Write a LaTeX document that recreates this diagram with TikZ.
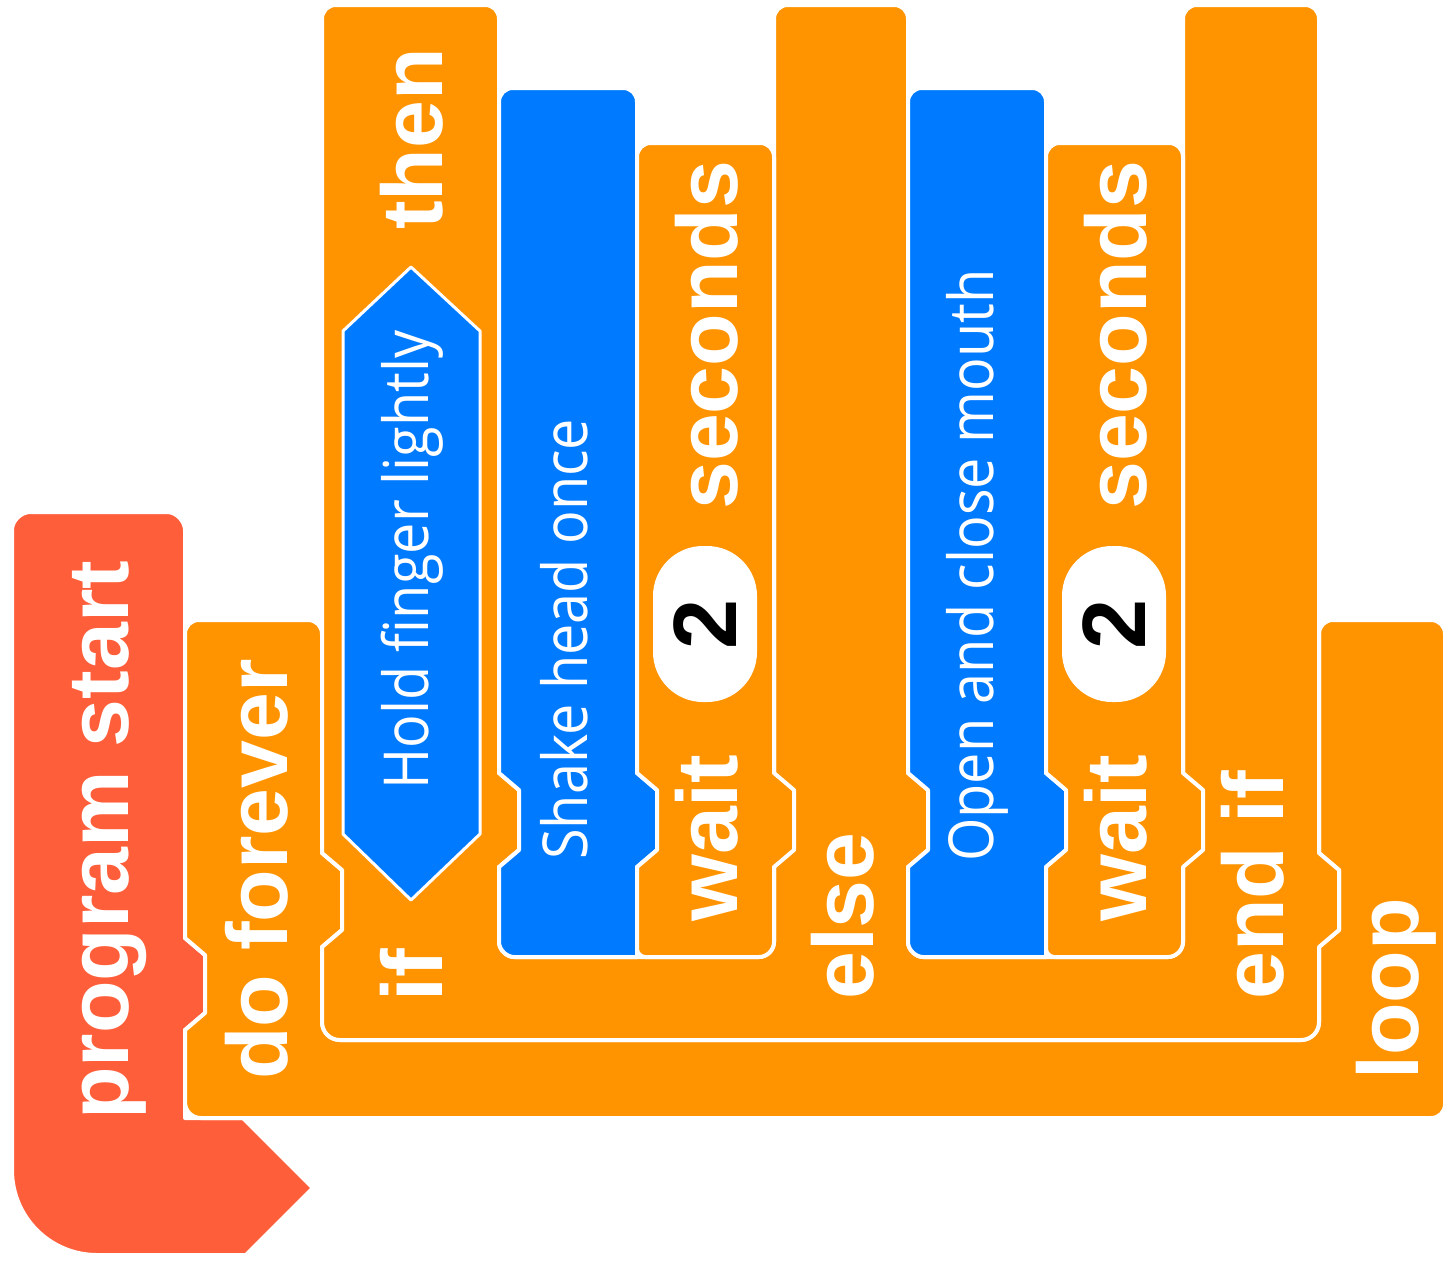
\documentclass[tikz,border=0pt]{standalone}
\usepackage{fontspec}
\newfontfamily\blockfont{Liberation Sans}
\newfontfamily\looksfont[FakeStretch=0.9]{Open Sans}
\definecolor{hatred}{RGB}{255,94,58}
\definecolor{ctrlorange}{RGB}{255,148,0}
\definecolor{looksblue}{RGB}{0,122,255}
\tikzset{
  blk/.style={draw=white, line width=4pt, line join=round},
  lbl/.style={text=white, font=\blockfont\bfseries\fontsize{86}{86}\selectfont,
    rotate=90, anchor=base west, inner sep=0pt},
  act/.style={text=white, font=\looksfont\fontsize{62}{62}\selectfont,
    rotate=90, anchor=base west, inner sep=0pt},
  numslot/.style={fill=white, rounded corners=50pt, minimum width=104pt,
    minimum height=156pt, inner sep=0pt},
  numtext/.style={text=black, font=\blockfont\bfseries\fontsize{90}{90}\selectfont,
    rotate=90, inner sep=0pt},
  % a blue action block followed by a "wait 2 seconds" block
  pics/actionwait/.style={code={
    \fill[looksblue, blk] (499,102) .. controls (499,94) and (505,88) .. (513,88)
      -- (623,88) .. controls (631,88) and (637,94) .. (637,102)
      -- (637,773) -- (657,790) -- (657,850) -- (637,867) -- (637,957)
      -- (514,957) .. controls (507,957) and (499,950) .. (499,942)
      -- (499,867) -- (519,850) -- (519,790) -- (499,773) -- cycle;
    \fill[ctrlorange, blk] (637,157) .. controls (637,149) and (643,143) .. (651,143)
      -- (760,143) .. controls (768,143) and (774,149) .. (774,157)
      -- (774,773) -- (794,790) -- (794,850) -- (774,867)
      -- (774,942) .. controls (774,950) and (767,957) .. (759,957)
      -- (645,957) .. controls (641,957) and (637,953) .. (637,949)
      -- (637,867) -- (657,850) -- (657,790) -- (637,773) -- cycle;
    \node[lbl] (-wait) at (737,922) {wait};
    \node[numslot] (-slot) at (705,624) {};
    \node[numtext] (-num) at (-slot.center) {2};
    \node[lbl] (-secs) at (737,510) {seconds};
  }}
}
\begin{document}
\begin{tikzpicture}[x=1pt, y=-1pt]
\useasboundingbox (0,0) rectangle (1448,1264);

% hat block
\fill[hatred, blk] (12,1170) -- (12,530) .. controls (12,520) and (22,512) .. (30,512)
  -- (167,512) .. controls (177,512) and (185,522) .. (185,530)
  -- (185,938) -- (205,955) -- (205,1013) -- (185,1030) -- (185,1118)
  -- (243,1118) -- (313,1188) -- (246,1255)
  -- (97,1255) .. controls (50,1255) and (12,1217) .. (12,1170) -- cycle;

% forever loop
\fill[ctrlorange, blk] (185,634) .. controls (185,626) and (191,620) .. (199,620)
  -- (308,620) .. controls (316,620) and (322,626) .. (322,634)
  -- (322,853) -- (342,870) -- (342,930) -- (322,947)
  -- (322,1022) .. controls (322,1032) and (330,1040) .. (340,1040)
  -- (1301,1040) .. controls (1311,1040) and (1319,1032) .. (1319,1022)
  -- (1319,947) -- (1339,930) -- (1339,870) -- (1319,853)
  -- (1319,634) .. controls (1319,626) and (1325,620) .. (1333,620)
  -- (1431,620) .. controls (1439,620) and (1445,626) .. (1445,634)
  -- (1445,1104) .. controls (1445,1112) and (1439,1118) .. (1431,1118)
  -- (201,1118) .. controls (192,1118) and (185,1111) .. (185,1102)
  -- (185,1030) -- (205,1013) -- (205,955) -- (185,938) -- cycle;

% if / else block
\fill[ctrlorange, blk] (322,19) .. controls (322,11) and (328,5) .. (336,5)
  -- (485,5) .. controls (493,5) and (499,11) .. (499,19)
  -- (499,773) -- (519,790) -- (519,850) -- (499,867)
  -- (499,942) .. controls (499,950) and (507,957) .. (514,957)
  -- (759,957) .. controls (767,957) and (774,950) .. (774,942)
  -- (774,19) .. controls (774,11) and (780,5) .. (788,5)
  -- (894,5) .. controls (902,5) and (908,11) .. (908,19)
  -- (908,773) -- (928,790) -- (928,850) -- (908,867)
  -- (908,942) .. controls (908,950) and (916,957) .. (923,957)
  -- (1168,957) .. controls (1176,957) and (1183,950) .. (1183,942)
  -- (1183,19) .. controls (1183,11) and (1189,5) .. (1197,5)
  -- (1305,5) .. controls (1313,5) and (1319,11) .. (1319,19)
  -- (1319,853) -- (1339,870) -- (1339,930) -- (1319,947)
  -- (1319,1022) .. controls (1319,1032) and (1311,1040) .. (1301,1040)
  -- (340,1040) .. controls (330,1040) and (322,1032) .. (322,1022)
  -- (322,947) -- (342,930) -- (342,870) -- (322,853) -- cycle;

% condition
\fill[looksblue, draw=white, line width=3pt, line join=round]
  (411,267) -- (480,331) -- (480,834) -- (411,900) -- (343,834) -- (343,331) -- cycle;

% inner stacks
\pic (first) at (0,0) {actionwait};
\pic (second) at (409,0) {actionwait};

% labels
\node[lbl] (start) at (128,1120) {program start};
\node[lbl] (forever) at (287,1080) {do forever};
\node[lbl] (if) at (442,1002) {if};
\node[lbl] (then) at (442,230) {then};
\node[lbl] (else) at (873,1000) {else};
\node[lbl] (endif) at (1283,1000) {end if};
\node[lbl] (loop) at (1418,1080) {loop};
\node[act] (cond) at (428,790) {Hold finger lightly};
\node[act] (shake) at (587,860) {Shake head once};
\node[act] (mouth) at (993,862) {Open and close mouth};
\end{tikzpicture}
\end{document}
